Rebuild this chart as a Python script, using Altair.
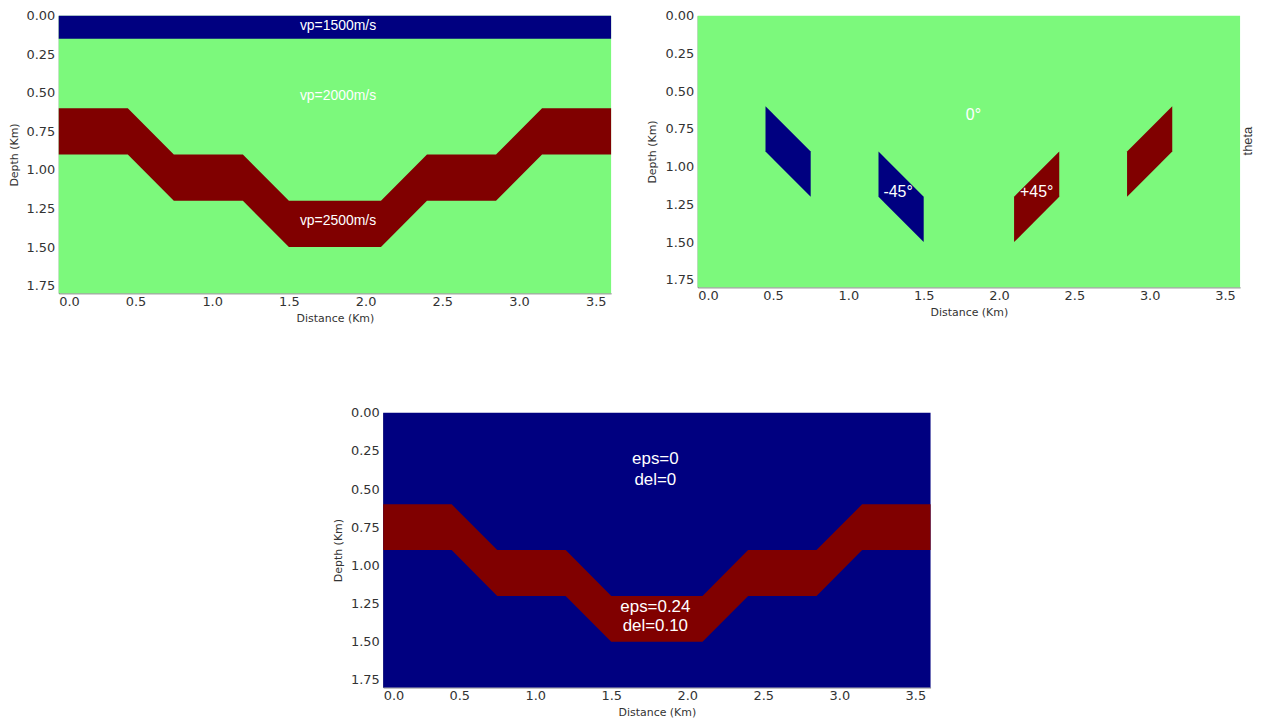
import altair as alt
import pandas as pd

# ---------------- data ----------------
X_DOMAIN = [0.0, 3.6]
Y_DOMAIN = [0.0, 1.8]
x_ticks = [0.0, 0.5, 1.0, 1.5, 2.0, 2.5, 3.0, 3.5]
y_ticks = [0.0, 0.25, 0.5, 0.75, 1.0, 1.25, 1.5, 1.75]

# stepped reflector band (panels 1 and 3)
band_x = [0.0, 0.45, 0.75, 1.2, 1.5, 2.1, 2.4, 2.85, 3.15, 3.6]
band_top = [0.6, 0.6, 0.9, 0.9, 1.2, 1.2, 0.9, 0.9, 0.6, 0.6]
band_bot = [0.9, 0.9, 1.2, 1.2, 1.5, 1.5, 1.2, 1.2, 0.9, 0.9]

# water layer (panel 1)
water_x = [0.0, 3.6]
water_top = [0.0, 0.0]
water_bot = [0.15, 0.15]

# tilted blocks (panel 2)
para_id = ["A", "A", "B", "B", "C", "C", "D", "D"]
para_kind = ["neg", "neg", "neg", "neg", "pos", "pos", "pos", "pos"]
para_x = [0.45, 0.75, 1.2, 1.5, 2.1, 2.4, 2.85, 3.15]
para_top = [0.6, 0.9, 0.9, 1.2, 1.2, 0.9, 0.9, 0.6]
para_bot = [0.9, 1.2, 1.2, 1.5, 1.5, 1.2, 1.2, 0.9]

# labels
p1_labels = ["vp=1500m/s", "vp=2000m/s", "vp=2500m/s"]
p1_lx = [1.82, 1.82, 1.82]
p1_ly = [0.065, 0.52, 1.33]

p2_labels = ["0°", "-45°", "+45°"]
p2_lx = [1.83, 1.33, 2.25]
p2_ly = [0.655, 1.17, 1.17]

p3_labels = ["eps=0", "del=0", "eps=0.24", "del=0.10"]
p3_lx = [1.79, 1.79, 1.79, 1.79]
p3_ly = [0.30, 0.44, 1.27, 1.40]

NAVY = "#000080"
GREEN = "#7cf97c"
MAROON = "#800000"
TXT_FONT = "Liberation Sans Narrow, Liberation Sans, Arial"

bg = pd.DataFrame({"x": [X_DOMAIN[0]], "x2": [X_DOMAIN[1]], "y": [Y_DOMAIN[0]], "y2": [Y_DOMAIN[1]]})
band = pd.DataFrame({"x": band_x, "top": band_top, "bot": band_bot})
water = pd.DataFrame({"x": water_x, "top": water_top, "bot": water_bot})
para = pd.DataFrame({"id": para_id, "kind": para_kind, "x": para_x, "top": para_top, "bot": para_bot})


def X(field):
    return alt.X(field, type="quantitative",
                 scale=alt.Scale(domain=X_DOMAIN, nice=False, zero=False),
                 axis=alt.Axis(values=x_ticks, format=".1f", title="Distance (Km)"))


def Y(field):
    return alt.Y(field, type="quantitative",
                 scale=alt.Scale(domain=Y_DOMAIN, nice=False, zero=False, reverse=True),
                 axis=alt.Axis(values=y_ticks, format=".2f", title="Depth (Km)"))


def background(color):
    return alt.Chart(bg).mark_rect(color=color).encode(
        x=X("x"), x2="x2", y=Y("y"), y2="y2")


def area(df, color):
    return alt.Chart(df).mark_area(color=color, interpolate="linear").encode(
        x=X("x"), y=Y("top"), y2="bot")


def labels(names, xs, ys, size):
    df = pd.DataFrame({"x": xs, "y": ys, "t": names})
    return alt.Chart(df).mark_text(color="white", fontSize=size, font=TXT_FONT,
                                   align="center", baseline="middle").encode(
        x=X("x"), y=Y("y"), text="t:N")


# panel 1: velocity
p1 = alt.layer(
    background(GREEN),
    area(water, NAVY),
    area(band, MAROON),
    labels(p1_labels, p1_lx, p1_ly, 14),
).properties(width=555, height=279)

# panel 2: theta
para_layer = alt.Chart(para).mark_area(interpolate="linear").encode(
    x=X("x"), y=Y("top"), y2="bot", detail="id:N",
    color=alt.Color("kind:N", scale=alt.Scale(domain=["neg", "pos"], range=[NAVY, MAROON]), legend=None),
)
theta_df = pd.DataFrame({"t": ["theta"]})
theta_text = alt.Chart(theta_df).mark_text(
    angle=270, fontSize=13, font="Liberation Sans", color="#333", align="center", baseline="middle"
).encode(x=alt.value(553), y=alt.value(126), text="t:N")

p2 = alt.layer(
    background(GREEN),
    para_layer,
    labels(p2_labels, p2_lx, p2_ly, 16),
    theta_text,
).properties(width=545, height=273)

# panel 3: eps / delta
p3 = alt.layer(
    background(NAVY),
    area(band, MAROON),
    labels(p3_labels, p3_lx, p3_ly, 17),
).properties(width=550, height=276)

top = alt.hconcat(p1, p2, spacing=36)
chart = alt.vconcat(top, p3, spacing=84, center=True).properties(padding=0).configure_view(
    strokeWidth=0
).configure_axis(
    grid=False, domain=True, domainColor="#555", domainWidth=0.8, ticks=False,
    labelFont="DejaVu Sans", labelFontSize=13, labelColor="#333",
    titleFont="DejaVu Sans", titleFontSize=11, titleFontWeight="normal", titleColor="#333",
).configure_axisY(titlePadding=7, labelPadding=4).configure_axisX(titlePadding=4, labelPadding=2)

chart.save("out.html", embed_options={"renderer": "svg", "actions": False})
